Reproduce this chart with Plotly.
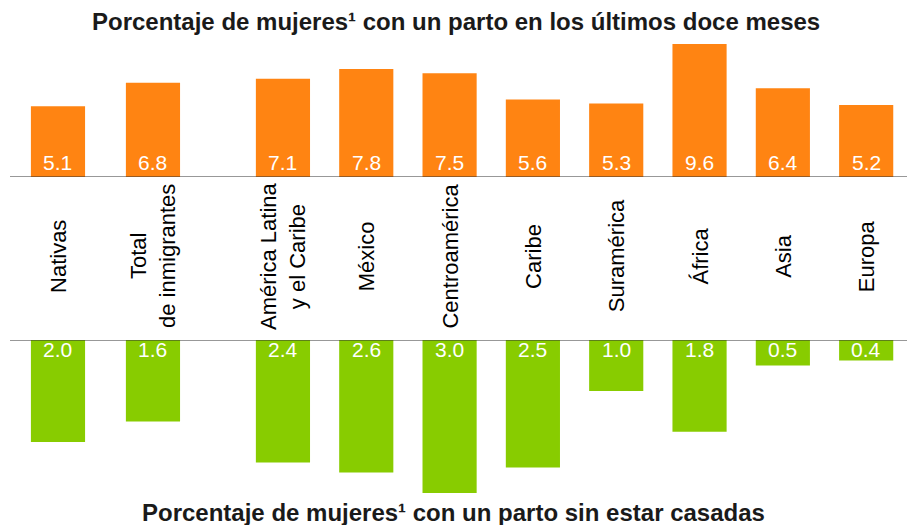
import plotly.graph_objects as go

categories = [
    "Nativas",
    "Total<br>de inmigrantes",
    "América Latina<br>y el Caribe",
    "México",
    "Centroamérica",
    "Caribe",
    "Suramérica",
    "África",
    "Asia",
    "Europa",
]
parto_12_meses = [5.1, 6.8, 7.1, 7.8, 7.5, 5.6, 5.3, 9.6, 6.4, 5.2]
parto_sin_casar = [2.0, 1.6, 2.4, 2.6, 3.0, 2.5, 1.0, 1.8, 0.5, 0.4]

title_top = "Porcentaje de mujeres¹ con un parto en los últimos doce meses"
title_bottom = "Porcentaje de mujeres¹ con un parto sin estar casadas"

ORANGE = "#FF8412"
GREEN = "#88CC00"
FONT = "Arial, Liberation Sans, Helvetica, sans-serif"

# group spacing: a wider gap after "Total de inmigrantes"
x_pos = [0, 1.14] + [2.7 + i for i in range(len(categories) - 2)]

fig = go.Figure()
fig.add_trace(
    go.Bar(
        x=x_pos,
        y=parto_12_meses,
        width=0.65,
        marker={"color": ORANGE, "line": {"width": 0}},
        yaxis="y",
        hoverinfo="skip",
    )
)
fig.add_trace(
    go.Bar(
        x=x_pos,
        y=parto_sin_casar,
        width=0.65,
        marker={"color": GREEN, "line": {"width": 0}},
        yaxis="y2",
        hoverinfo="skip",
    )
)

annotations = []
for x, v in zip(x_pos, parto_12_meses):
    annotations.append(
        dict(x=x, y=0, xref="x", yref="y", text=f"{v:.1f}", showarrow=False,
             yanchor="bottom", yshift=1, font={"color": "white", "size": 21, "family": FONT})
    )
for x, v in zip(x_pos, parto_sin_casar):
    annotations.append(
        dict(x=x, y=0, xref="x", yref="y2", text=f"{v:.1f}", showarrow=False,
             yanchor="top", yshift=4, font={"color": "white", "size": 21, "family": FONT})
    )
for x, c in zip(x_pos, categories):
    annotations.append(
        dict(x=x, y=1 - 256 / 525, xref="x", yref="paper", text=c, showarrow=False,
             textangle=-90, font={"color": "#000000", "size": 22, "family": FONT})
    )
annotations.append(
    dict(x=0.503, y=1 - 22 / 525, xref="paper", yref="paper", text=f"<b>{title_top}</b>",
         showarrow=False, yanchor="middle",
         font={"color": "#1a1a1a", "size": 24, "family": FONT})
)
annotations.append(
    dict(x=0.5, y=1 - 512 / 525, xref="paper", yref="paper", text=f"<b>{title_bottom}</b>",
         showarrow=False, yanchor="middle",
         font={"color": "#1a1a1a", "size": 24, "family": FONT})
)

fig.update_layout(
    width=907,
    height=525,
    margin=dict(l=0, r=0, t=0, b=0),
    plot_bgcolor="white",
    paper_bgcolor="white",
    showlegend=False,
    xaxis=dict(range=[-0.696, 10.19], visible=False, fixedrange=True),
    yaxis=dict(range=[0, 10], domain=[1 - 177 / 525, 1 - 38.5 / 525], visible=False),
    yaxis2=dict(range=[3.2, 0], domain=[1 - 503.2 / 525, 1 - 340 / 525], visible=False),
    annotations=annotations,
    shapes=[
        dict(type="line", xref="paper", yref="y", x0=0.011, x1=1, y0=0, y1=0,
             line=dict(color="#333333", width=1.2)),
        dict(type="line", xref="paper", yref="y2", x0=0.011, x1=1, y0=0, y1=0,
             line=dict(color="#333333", width=1.2)),
    ],
)

fig.write_html(
    "out.html",
    config={"displayModeBar": False},
    post_script="document.body.style.margin='0';document.body.style.overflow='hidden';",
)
